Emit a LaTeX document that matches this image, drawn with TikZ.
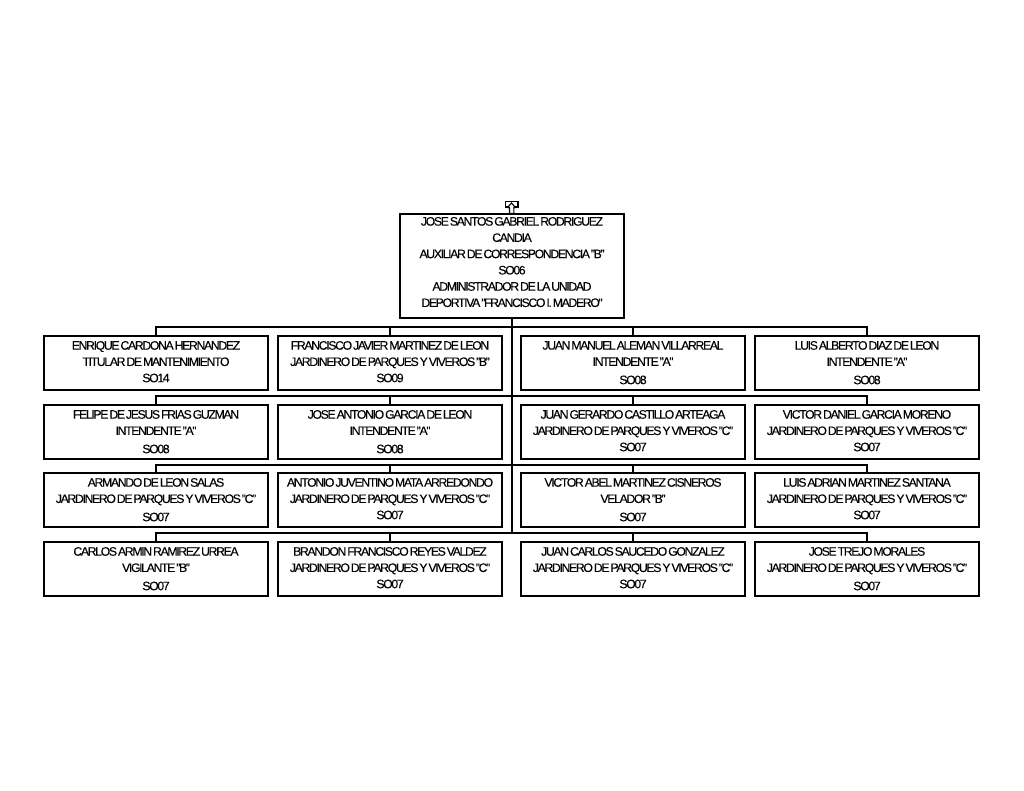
\documentclass[tikz,border=0pt]{standalone}
\usepackage{fontspec}
\setmainfont{Liberation Sans}[LetterSpace=-11,WordSpace=0.45,FakeBold=0.12]
\newcommand{\lowline}[1]{\smash{\raisebox{-1.5pt}{#1}}}
\tikzset{
  orgbox/.style={draw,line width=1.25pt,minimum width=168pt,minimum height=40.5pt,inner sep=0pt,align=center,text depth=2pt,font=\fontsize{9.2}{12.2}\selectfont},
  orgline/.style={line width=1.2pt}
}
\begin{document}
\begin{tikzpicture}[x=.75pt,y=-.75pt]
  \useasboundingbox (0,0) rectangle (1024,791);
  % head of the unit
  \node[orgbox,minimum height=78pt,text depth=6pt] (head) at (512,266) {JOSE SANTOS GABRIEL RODRIGUEZ\\CANDIA\\AUXILIAR DE CORRESPONDENCIA "B"\\SO06\\ADMINISTRADOR DE LA UNIDAD\\DEPORTIVA "FRANCISCO I. MADERO"};
  \draw[line width=.8pt] (508.5,207) -- (505.5,207) -- (505.5,201.5) -- (518,201.5) -- (518,207) -- (515,207);
  \draw[line width=.8pt] (511.5,203) -- (515.5,207.5) -- (513.8,207.5) -- (513.8,213.5) -- (509.5,213.5) -- (509.5,207.5) -- (507.5,207.5) -- cycle;
  % first row
  \node[orgbox] (enrique) at (156,363) {ENRIQUE CARDONA HERNANDEZ\\TITULAR DE MANTENIMIENTO\\SO14};
  \node[orgbox] (francisco) at (390,363) {FRANCISCO JAVIER MARTINEZ DE LEON\\JARDINERO DE PARQUES Y VIVEROS "B"\\SO09};
  \node[orgbox] (manuel) at (633,363) {JUAN MANUEL ALEMAN VILLARREAL\\INTENDENTE "A"\\\lowline{SO08}};
  \node[orgbox] (alberto) at (867,363) {LUIS ALBERTO DIAZ DE LEON\\INTENDENTE "A"\\\lowline{SO08}};
  % second row
  \node[orgbox] (felipe) at (156,432) {FELIPE DE JESUS FRIAS GUZMAN\\INTENDENTE "A"\\\lowline{SO08}};
  \node[orgbox] (antonio) at (390,432) {JOSE ANTONIO GARCIA DE LEON\\INTENDENTE "A"\\\lowline{SO08}};
  \node[orgbox] (gerardo) at (633,432) {JUAN GERARDO CASTILLO ARTEAGA\\JARDINERO DE PARQUES Y VIVEROS "C"\\SO07};
  \node[orgbox] (daniel) at (867,432) {VICTOR DANIEL GARCIA MORENO\\JARDINERO DE PARQUES Y VIVEROS "C"\\SO07};
  % third row
  \node[orgbox] (armando) at (156,500) {ARMANDO DE LEON SALAS\\JARDINERO DE PARQUES Y VIVEROS "C"\\\lowline{SO07}};
  \node[orgbox] (juventino) at (390,500) {ANTONIO JUVENTINO MATA ARREDONDO\\JARDINERO DE PARQUES Y VIVEROS "C"\\SO07};
  \node[orgbox] (abel) at (633,500) {VICTOR ABEL MARTINEZ CISNEROS\\VELADOR "B"\\\lowline{SO07}};
  \node[orgbox] (adrian) at (867,500) {LUIS ADRIAN MARTINEZ SANTANA\\JARDINERO DE PARQUES Y VIVEROS "C"\\SO07};
  % fourth row
  \node[orgbox] (armin) at (156,569) {CARLOS ARMIN RAMIREZ URREA\\VIGILANTE "B"\\\lowline{SO07}};
  \node[orgbox] (brandon) at (390,569) {BRANDON FRANCISCO REYES VALDEZ\\JARDINERO DE PARQUES Y VIVEROS "C"\\SO07};
  \node[orgbox] (saucedo) at (633,569) {JUAN CARLOS SAUCEDO GONZALEZ\\JARDINERO DE PARQUES Y VIVEROS "C"\\SO07};
  \node[orgbox] (trejo) at (867,569) {JOSE TREJO MORALES\\JARDINERO DE PARQUES Y VIVEROS "C"\\\lowline{SO07}};
  % connectors
  \coordinate (stem) at (512,533);
  \draw[orgline] (head.south -| stem) -- (stem);
  \foreach \first/\second/\third/\fourth/\bus in {enrique/francisco/manuel/alberto/327,felipe/antonio/gerardo/daniel/396,armando/juventino/abel/adrian/465,armin/brandon/saucedo/trejo/533} {
    \draw[orgline] (\first.north) -- (\first.north |- 0,\bus) -- (\fourth.north |- 0,\bus) -- (\fourth.north);
    \draw[orgline] (\second.north) -- (\second.north |- 0,\bus);
    \draw[orgline] (\third.north) -- (\third.north |- 0,\bus);
  }
\end{tikzpicture}
\end{document}
